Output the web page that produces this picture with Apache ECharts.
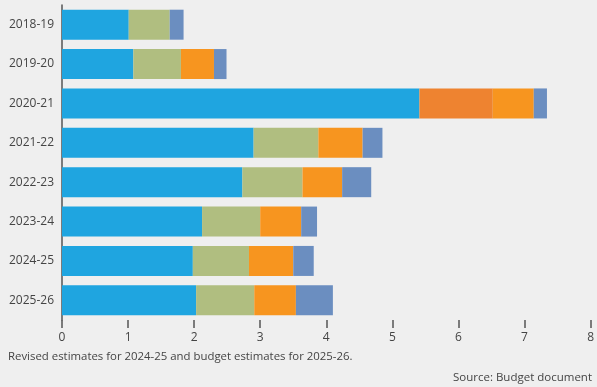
<!DOCTYPE html>
<html>
<head>
<meta charset="utf-8">
<script src="https://cdn.jsdelivr.net/npm/echarts@6/dist/echarts.min.js"></script>
<style>
html,body{margin:0;padding:0;background:#efefef;}
#c{width:597px;height:387px;}
</style>
</head>
<body>
<div id="c"></div>
<script>
const categories = ["2018-19","2019-20","2020-21","2021-22","2022-23","2023-24","2024-25","2025-26"];
const seriesBlue      = [1.01, 1.08, 5.41, 2.90, 2.73, 2.12, 1.98, 2.03];
const seriesGreen     = [0.62, 0.72, 0,    0.98, 0.91, 0.88, 0.85, 0.88];
const seriesDarkOrange= [0,    0,    1.11, 0,    0,    0,    0,    0];
const seriesOrange    = [0,    0.50, 0.62, 0.67, 0.60, 0.62, 0.67, 0.63];
const seriesSlate     = [0.21, 0.19, 0.20, 0.30, 0.44, 0.24, 0.31, 0.56];
const xTicks = [0,1,2,3,4,5,6,7,8];

const colors = ["#1fa5e0","#b0be80","#ee8330","#f7951f","#6b8ec0"];
const data = [seriesBlue, seriesGreen, seriesDarkOrange, seriesOrange, seriesSlate];
const names = ["blue","green","darkorange","orange","slate"];

const chart = echarts.init(document.getElementById('c'), null, {renderer:'canvas'});
const font = '"Open Sans", sans-serif';
chart.setOption({
  backgroundColor: '#efefef',
  animation: false,
  grid: {left: 62, right: 5, top: 5, height: 315, containLabel: false},
  xAxis: {
    type: 'value', min: xTicks[0], max: xTicks[xTicks.length-1], interval: 1,
    axisLine: {show: false},
    axisTick: {show: true, length: 8, lineStyle: {color: '#555', width: 1.5}},
    splitLine: {show: false},
    axisLabel: {color: '#444', fontSize: 12, fontFamily: font, margin: 12}
  },
  yAxis: {
    type: 'category', data: categories, inverse: true,
    axisLine: {show: true, lineStyle: {color: '#555', width: 1.5}},
    axisTick: {show: false},
    axisLabel: {color: '#444', fontSize: 12, fontFamily: font, margin: 8}
  },
  series: data.map((d, i) => ({
    name: names[i], type: 'bar', stack: 'total', data: d,
    barWidth: 30,
    itemStyle: {color: colors[i]}
  })),
  graphic: [
    {type: 'text', left: 8, top: 351, style: {text: 'Revised estimates for 2024-25 and budget estimates for 2025-26.', fill: '#444', font: '11.4px ' + font}},
    {type: 'text', right: 5, top: 372, style: {text: 'Source: Budget document', fill: '#444', font: '11.5px ' + font}}
  ]
});
</script>
</body>
</html>
